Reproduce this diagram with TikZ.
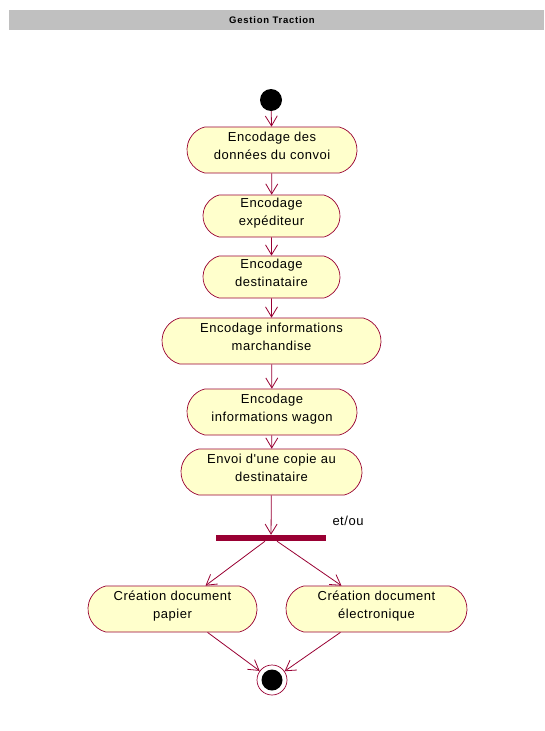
\documentclass[tikz,border=0pt]{standalone}
\usepackage{fontspec}
\setmainfont{Liberation Sans}
\newfontfamily\diagfont[LetterSpace=4]{Liberation Sans}
\newfontfamily\titlefont[LetterSpace=8]{Liberation Sans}
\usetikzlibrary{shapes.misc,arrows.meta}
\definecolor{umlline}{HTML}{990033}
\definecolor{umlfill}{HTML}{FFFFCC}
\definecolor{barfill}{HTML}{C0C0C0}
\tikzset{
  action/.style={rounded rectangle, rounded rectangle arc length=150,
    draw=umlline, line width=0.7pt, fill=umlfill, inner sep=0pt,
    minimum height=46pt, align=center, text height=27pt, text depth=9pt,
    font=\diagfont\fontsize{13}{18}\selectfont},
  flow/.style={draw=umlline, line width=0.8pt,
    -{Straight Barb[length=10pt,width=12pt,line width=0.8pt]}},
}
\begin{document}
\begin{tikzpicture}[x=1pt,y=-1pt]
\useasboundingbox (0,0) rectangle (544,731);
\fill[white] (0,0) rectangle (544,731);
% title bar
\fill[barfill] (9,10) rectangle (544,30);
\node[font=\titlefont\fontsize{9.5}{10}\selectfont\bfseries] (title) at (272,20) {Gestion Traction};

% initial state
\node[circle, fill=black, minimum size=22pt, inner sep=0pt] (start) at (271,100) {};

% activities
\node[action, minimum width=170pt] (a1) at (272,150) {Encodage des\\données du convoi};
\node[action, minimum width=137pt, minimum height=42pt] (a2) at (271.5,216) {Encodage\\expéditeur};
\node[action, minimum width=137pt, minimum height=42pt] (a3) at (271.5,277) {Encodage\\destinataire};
\node[action, minimum width=219pt] (a4) at (271.5,341) {Encodage informations\\marchandise};
\node[action, minimum width=170pt] (a5) at (272,412) {Encodage\\informations wagon};
\node[action, minimum width=181pt] (a6) at (271.5,472) {Envoi d'une copie au\\destinataire};

% fork bar
\node[rectangle, fill=umlline, minimum width=110pt, minimum height=6pt, inner sep=0pt] (fork) at (271,538) {};
\node[font=\diagfont\fontsize{13}{15}\selectfont] (etou) at (348,521) {et/ou};

\node[action, minimum width=169pt] (b1) at (172.5,609) {Création document\\papier};
\node[action, minimum width=181pt] (b2) at (376.5,609) {Création document\\électronique};

% final state
\node[circle, draw=umlline, line width=0.7pt, fill=white, minimum size=30pt, inner sep=0pt] (final) at (272,680) {};
\node[circle, fill=black, minimum size=21pt, inner sep=0pt] (finaldot) at (final.center) {};

% transitions
\draw[flow] (start) -- (a1);
\draw[flow] (a1) -- (a2);
\draw[flow] (a2) -- (a3);
\draw[flow] (a3) -- (a4);
\draw[flow] (a4) -- (a5);
\draw[flow] (a5) -- (a6);
\draw[flow] (a6) -- (fork);
\draw[flow] ([xshift=-6pt]fork.south) -- ([xshift=33pt]b1.north);
\draw[flow] ([xshift=6pt]fork.south) -- ([xshift=-35pt]b2.north);
\draw[flow] ([xshift=35pt]b1.south) -- (final);
\draw[flow] ([xshift=-36pt]b2.south) -- (final);
\end{tikzpicture}
\end{document}
